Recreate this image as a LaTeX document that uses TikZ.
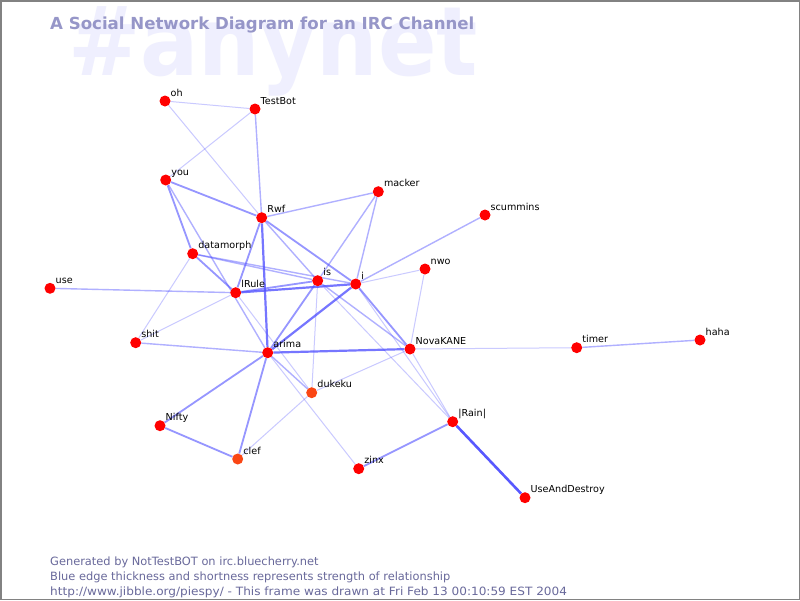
\documentclass[tikz,border=0pt]{standalone}
\usepackage{fontspec}
\setmainfont{DejaVu Sans}
\pgfdeclarelayer{bg}
\pgfdeclarelayer{edges}
\pgfsetlayers{bg,edges,main}
\definecolor{nodered}{RGB}{255,0,0}
\definecolor{nodeorange}{RGB}{250,70,20}
\definecolor{edgeblue}{RGB}{80,80,255}
\definecolor{titlecol}{RGB}{150,150,200}
\definecolor{footcol}{RGB}{105,105,155}
\definecolor{markcol}{RGB}{239,239,254}
\definecolor{framecol}{RGB}{130,130,130}
\newcommand\ircnick[4]{%
  \node[#4] (#1) at (#2) {};
  \node[lbl] (#1L) at ([shift={(5.5,-5)}]#1.center) {#3};}
\begin{document}
\begin{tikzpicture}[x=1pt,y=-1pt,
  person/.style={circle, fill=nodered, draw=none, inner sep=0pt, minimum size=11pt},
  personor/.style={person, fill=nodeorange},
  lbl/.style={anchor=base west, inner sep=0pt, text=black, font=\fontsize{9.6}{11}\selectfont},
  e1/.style={draw=edgeblue, line width=1pt, draw opacity=0.3},
  e2/.style={draw=edgeblue, line width=1.4pt, draw opacity=0.45},
  e3/.style={draw=edgeblue, line width=1.8pt, draw opacity=0.6},
  e4/.style={draw=edgeblue, line width=2.2pt, draw opacity=0.78},
  e5/.style={draw=edgeblue, line width=2.6pt, draw opacity=0.95},
  foot/.style={anchor=base west, inner sep=0pt, text=footcol, font=\fontsize{11.4}{13}\selectfont}]
\useasboundingbox (0,0) rectangle (800,600);
\begin{pgfonlayer}{bg}
\fill[white] (0,0) rectangle (800,600);
\node[anchor=base west, inner sep=0pt, text=markcol, font=\bfseries\fontsize{96}{100}\selectfont] (mark) at (68,75) {\scalebox{0.9}[1]{\#anynet}};
\end{pgfonlayer}
\draw[framecol, line width=1.5pt] (0.75,0.75) rectangle (799.25,599.25);
\node[anchor=base west, inner sep=0pt, text=titlecol, font=\bfseries\fontsize{16.6}{19}\selectfont] (title) at (50,29.3) {A Social Network Diagram for an IRC Channel};
% people
\ircnick{oh}{165,101}{oh}{person}
\ircnick{testbot}{255,109}{TestBot}{person}
\ircnick{you}{165.7,180}{you}{person}
\ircnick{rwf}{261.7,217.7}{Rwf}{person}
\ircnick{macker}{378.3,191.7}{macker}{person}
\ircnick{scummins}{485,215}{scummins}{person}
\ircnick{datamorph}{192.7,253.7}{datamorph}{person}
\ircnick{nwo}{425,269}{nwo}{person}
\ircnick{use}{50,288.3}{use}{person}
\ircnick{is}{317.7,280.7}{is}{person}
\ircnick{i}{355.7,284}{i}{person}
\ircnick{lrule}{235.7,292.7}{lRule}{person}
\ircnick{shit}{135.7,342.7}{shit}{person}
\ircnick{arima}{267.7,352.7}{arima}{person}
\ircnick{nova}{410,349}{NovaKANE}{person}
\ircnick{timer}{576.7,347.7}{timer}{person}
\ircnick{haha}{700,340}{haha}{person}
\ircnick{dukeku}{311.7,392.7}{dukeku}{personor}
\ircnick{nifty}{160,425.7}{Nifty}{person}
\ircnick{rain}{452.7,421.7}{|Rain|}{person}
\ircnick{clef}{237.7,459}{clef}{personor}
\ircnick{zinx}{358.7,468.7}{zinx}{person}
\ircnick{uad}{525,497.7}{UseAndDestroy}{person}
% edges
\begin{pgfonlayer}{edges}
\draw[e1] (oh) -- (testbot);
\draw[e1] (oh) -- (rwf);
\draw[e1] (testbot) -- (you);
\draw[e2] (testbot) -- (rwf);
\draw[e3] (you) -- (rwf);
\draw[e3] (you) -- (datamorph);
\draw[e2] (you) -- (arima);
\draw[e2] (rwf) -- (macker);
\draw[e3] (rwf) -- (lrule);
\draw[e4] (rwf) -- (arima);
\draw[e3] (rwf) -- (i);
\draw[e2] (rwf) -- (is);
\draw[e2] (macker) -- (is);
\draw[e2] (macker) -- (i);
\draw[e2] (scummins) -- (i);
\draw[e1] (nwo) -- (i);
\draw[e1] (nwo) -- (nova);
\draw[e3] (datamorph) -- (lrule);
\draw[e2] (datamorph) -- (is);
\draw[e2] (datamorph) -- (i);
\draw[e1] (datamorph) -- (shit);
\draw[e2] (use) -- (lrule);
\draw[e3] (lrule) -- (is);
\draw[e4] (lrule) -- (i);
\draw[e1] (lrule) -- (shit);
\draw[e1] (lrule) -- (dukeku);
\draw[e3] (is) -- (arima);
\draw[e1] (is) -- (dukeku);
\draw[e2] (is) -- (nova);
\draw[e1] (is) -- (rain);
\draw[e4] (i) -- (arima);
\draw[e3] (i) -- (nova);
\draw[e1] (i) -- (rain);
\draw[e1] (nova) -- (rain);
\draw[e1] (nova) -- (timer);
\draw[e2] (timer) -- (haha);
\draw[e4] (arima) -- (nova);
\draw[e2] (arima) -- (shit);
\draw[e3] (arima) -- (nifty);
\draw[e3] (arima) -- (clef);
\draw[e2] (arima) -- (dukeku);
\draw[e1] (arima) -- (zinx);
\draw[e3] (nifty) -- (clef);
\draw[e1] (clef) -- (dukeku);
\draw[e1] (dukeku) -- (nova);
\draw[e3] (zinx) -- (rain);
\draw[e5] (rain) -- (uad);
\end{pgfonlayer}
% footer
\node[foot] (f1) at (50,565) {Generated by NotTestBOT on irc.bluecherry.net};
\node[foot] (f2) at (50,580) {Blue edge thickness and shortness represents strength of relationship};
\node[foot] (f3) at (50,595) {\scalebox{1.06}[1]{http://www.jibble.org/piespy/ - This frame was drawn at Fri Feb 13 00:10:59 EST 2004}};
\end{tikzpicture}
\end{document}
